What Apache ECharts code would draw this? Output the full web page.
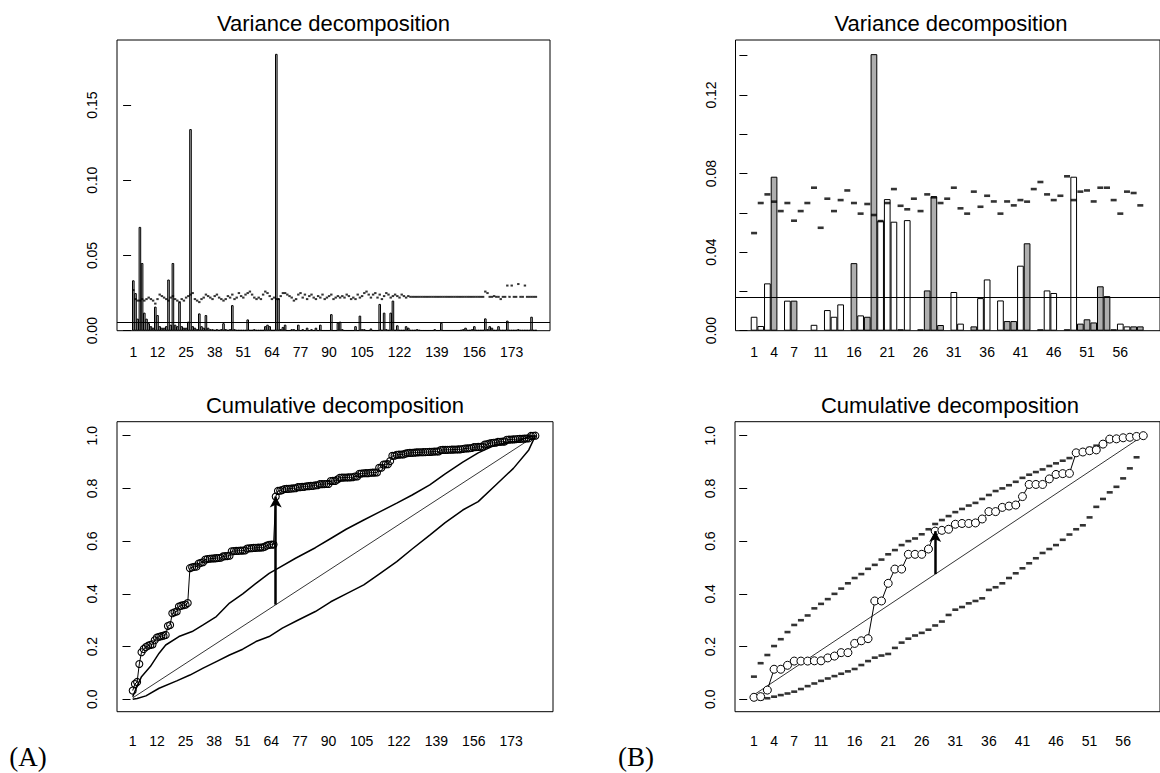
<!DOCTYPE html>
<html>
<head>
<meta charset="utf-8">
<script src="https://cdn.jsdelivr.net/npm/echarts@6.0.0/dist/echarts.min.js"></script>
<style>
html,body{margin:0;padding:0;background:#fff;}
#chart{width:1160px;height:773px;}
</style>
</head>
<body>
<div id="chart"></div>
<script>
// ---------- Panel A data (184 variables) ----------
const barsA = [
0.0335,0.025,0.008,0.069,0.045,0.012,0.008,0.005,0.003,0.002,
0.016,0.0104,0.003,0.002,0.002,0.003,0.034,0.004,0.045,0.004,
0.003,0.019,0.003,0.002,0.002,0.006,0.134,0.003,0.002,0.001,
0.0115,0.003,0.002,0.0104,0.002,0.001,0.001,0.0005,0.001,0.0005,
0.001,0.005,0.001,0.0005,0.001,0.017,0.001,0.0005,0.0005,0.0005,
0.0005,0.0005,0.0075,0.0005,0.0005,0.001,0.0005,0.0005,0.0005,0.0005,
0.003,0.004,0.003,0.0005,0.0005,0.184,0.0215,0.001,0.0025,0.004,
0.0003,0.0003,0.001,0.001,0.0003,0.004,0.0003,0.001,0.0003,0.002,
0.0003,0.001,0.0003,0.002,0.0003,0.004,0.0003,0.0003,0.0003,0.0003,
0.011,0.0003,0.0003,0.0053,0.006,0.001,0.0003,0.0003,0.0003,0.0003,
0.0003,0.003,0.0003,0.01,0.001,0.001,0.0003,0.0003,0.0015,0.0003,
0.0003,0.0003,0.0178,0.0005,0.012,0.001,0.0005,0.012,0.020,0.0005,
0.0036,0.0005,0.0005,0.0005,0.003,0.002,0.0005,0.0005,0.0005,0.001,
0.0005,0.0003,0.0003,0.0003,0.0003,0.0003,0.0003,0.001,0.0003,0.0003,
0.0053,0.0003,0.0003,0.0003,0.0003,0.0003,0.0003,0.0003,0.0003,0.0005,
0.001,0.002,0.0005,0.0005,0.001,0.003,0.0005,0.0005,0.0005,0.0005,
0.0082,0.001,0.003,0.002,0.0005,0.0005,0.003,0.0005,0.0005,0.0005,
0.0067,0.0005,0.0005,0.0005,0.0005,0.001,0.0005,0.0005,0.0005,0.0005,
0.0005,0.0093,0.0005,0.0005
];
const thresholdA = [
0.027,0.021,0.020,0.020,0.021,0.020,0.021,0.022,0.021,0.020,
0.018,0.021,0.024,0.023,0.022,0.021,0.020,0.022,0.023,0.021,
0.020,0.019,0.021,0.020,0.022,0.023,0.024,0.025,0.021,0.020,
0.019,0.021,0.022,0.024,0.023,0.022,0.021,0.023,0.024,0.022,
0.021,0.020,0.021,0.023,0.022,0.024,0.021,0.022,0.025,0.023,
0.022,0.024,0.025,0.026,0.024,0.022,0.021,0.022,0.021,0.024,
0.026,0.025,0.023,0.021,0.022,0.021,0.021,0.023,0.025,0.025,
0.024,0.023,0.022,0.020,0.021,0.024,0.025,0.022,0.024,0.021,
0.023,0.024,0.022,0.021,0.023,0.022,0.024,0.021,0.022,0.023,
0.024,0.021,0.022,0.023,0.022,0.023,0.022,0.024,0.023,0.021,
0.022,0.021,0.024,0.022,0.023,0.025,0.026,0.024,0.022,0.024,
0.025,0.022,0.024,0.021,0.023,0.025,0.024,0.022,0.023,0.024,
0.023,0.022,0.024,0.023,0.022,0.023,0.0225,0.0225,0.0225,0.0225,
0.0225,0.0225,0.0225,0.0225,0.0225,0.0225,0.0225,0.0225,0.0225,0.0225,
0.0225,0.0225,0.0225,0.0225,0.0225,0.0225,0.0225,0.0225,0.0225,0.0225,
0.0225,0.0225,0.0225,0.0225,0.0225,0.0225,0.0225,0.0225,0.0225,0.0225,
0.026,0.025,0.0225,0.0225,0.023,0.0225,0.0225,0.021,0.0225,0.0225,
0.030,0.0225,0.030,0.0225,0.0225,0.031,0.0225,0.0225,0.030,0.0225,
0.0225,0.0225,0.0225,0.0225
];
const uniformA = 0.0054;
const upperA = [[1,0.01],[3,0.05],[5,0.086],[9,0.124],[13,0.175],[16,0.206],[22,0.238],[28,0.257],[33,0.282],[39,0.314],[45,0.365],[51,0.40],[57,0.44],[63,0.478],[67,0.497],[75,0.535],[84,0.575],[91,0.61],[98,0.645],[106,0.68],[113,0.71],[121,0.744],[128,0.775],[136,0.813],[143,0.855],[151,0.90],[158,0.935],[166,0.965],[172,0.975],[176,0.98],[181,0.996],[184,1.0]];
const lowerA = [[1,0.0],[3,0.003],[7,0.013],[13,0.042],[21,0.07],[27,0.092],[33,0.118],[39,0.143],[45,0.168],[51,0.19],[57,0.219],[63,0.238],[69,0.27],[76,0.30],[84,0.333],[91,0.37],[98,0.40],[106,0.434],[113,0.475],[121,0.522],[128,0.57],[136,0.623],[143,0.67],[151,0.718],[158,0.75],[166,0.813],[174,0.876],[181,0.946],[184,1.0]];
const diagonalA = [[1,0.0054],[184,1.0]];
const arrowA = {index:66, from:0.359};
const tickLabelsA = [1,12,25,38,51,64,77,90,105,122,139,156,173];

// ---------- Panel B data (59 variables) ----------
const whiteB = [0.0071,0.0024,0.0241,null,null,0.0153,null,null,null,0.003,
null,0.0105,0.0071,0.0134,null,null,0.0078,null,null,0.056,
0.067,0.0555,0.0007,0.0563,null,0.0007,null,null,null,null,
0.0197,0.0036,null,null,0.0166,0.0261,null,0.0154,null,null,
0.0331,null,null,0.0007,0.0205,0.0192,null,0.0007,0.0784,null,
null,null,null,null,0.0007,0.0036,0.0022,null,null];
const greyB = [null,null,null,0.0784,null,null,0.0153,null,null,null,
null,null,null,null,null,0.0344,null,0.0071,0.1408,null,
null,null,null,null,null,null,0.0205,0.0684,0.0029,null,
null,null,null,0.0022,null,null,null,null,0.0049,0.0049,
null,0.0445,null,null,null,null,null,null,null,0.0036,
0.0058,0.0042,0.0226,0.0176,null,null,null,0.0022,0.0022];
const thresholdB = [0.0497,0.065,0.0694,0.0657,0.0609,0.065,0.056,0.0609,0.065,0.0728,
0.0524,0.0672,0.0609,0.0665,0.0714,0.065,0.0596,0.0645,0.0589,0.0558,
0.065,0.0721,0.0636,0.0618,0.0672,0.0609,0.0694,0.0679,0.065,0.0672,
0.0728,0.0623,0.0596,0.0708,0.0631,0.0687,0.0658,0.0596,0.0658,0.0638,
0.0665,0.0657,0.0721,0.0757,0.0694,0.0665,0.0687,0.0786,0.0665,0.0708,
0.0714,0.0658,0.0728,0.0728,0.0665,0.0596,0.0708,0.0701,0.0638];
const uniformB = 0.017;
const cumulativeB = [0.0076,0.010,0.035,0.114,0.114,0.129,0.145,0.145,0.145,0.146,
0.146,0.157,0.164,0.177,0.177,0.212,0.222,0.230,0.373,0.373,
0.440,0.494,0.494,0.550,0.550,0.550,0.570,0.638,0.641,0.645,
0.664,0.667,0.667,0.669,0.684,0.712,0.712,0.728,0.733,0.737,
0.769,0.815,0.815,0.815,0.836,0.853,0.856,0.857,0.935,0.938,
0.943,0.946,0.968,0.987,0.988,0.992,0.994,0.997,1.0];
const upperB = [0.086,0.137,0.168,0.202,0.228,0.255,0.282,0.300,0.318,0.345,
0.362,0.380,0.40,0.42,0.44,0.46,0.475,0.495,0.51,0.53,
0.55,0.566,0.585,0.60,0.61,0.626,0.645,0.665,0.68,0.695,
0.71,0.722,0.735,0.745,0.76,0.775,0.79,0.80,0.812,0.825,
0.84,0.852,0.862,0.872,0.885,0.895,0.905,0.915,0.93,0.942,
0.953,0.962,0.97,0.98,0.99,0.995,0.998,1.0,1.0];
const lowerB = [0.0,0.0,0.004,0.01,0.016,0.022,0.029,0.039,0.05,0.06,
0.07,0.079,0.088,0.097,0.106,0.115,0.13,0.145,0.158,0.166,
0.172,0.195,0.215,0.23,0.242,0.252,0.264,0.28,0.295,0.32,
0.34,0.35,0.364,0.373,0.383,0.415,0.425,0.44,0.46,0.478,
0.497,0.516,0.535,0.555,0.57,0.585,0.605,0.625,0.645,0.66,
0.69,0.73,0.76,0.785,0.806,0.838,0.876,0.918,1.0];
const diagonalB = [[1,0.017],[59,1.0]];
const arrowB = {index:28, from:0.475};
const tickLabelsB = [1,4,7,11,16,21,26,31,36,41,46,51,56];

// ---------- build ----------
const idx = arr => arr.map((v,i)=>[i+1, v]);
const totalA = barsA.reduce((a,b)=>a+b,0);
let run = 0;
const cumulativeA = barsA.map(v => { run += v; return run/totalA; });

const FONT = 'Liberation Sans, Arial, sans-serif';
const BLK = '#000';

function xAxis(gi, min, max, labels, margin){
  return {type:'value', gridIndex:gi, min:min, max:max,
    axisLine:{show:false}, axisTick:{show:false}, splitLine:{show:false},
    axisLabel:{customValues:labels, formatter:v=>String(v), color:BLK, fontFamily:FONT, fontSize:14, margin:margin}};
}
function yAxis(gi, min, max, ticks, labels, dec){
  return {type:'value', gridIndex:gi, min:min, max:max,
    axisLine:{show:false}, splitLine:{show:false},
    axisTick:{show:true, customValues:ticks, length:8, lineStyle:{color:BLK, width:1}},
    axisLabel:{customValues:labels, rotate:90, formatter:v=>v.toFixed(dec), color:BLK, fontFamily:FONT, fontSize:14, margin:18}};
}
const gridStyle = {show:true, borderColor:BLK, borderWidth:1, backgroundColor:'transparent', containLabel:false};

const hLine = v => ({silent:true, symbol:'none', precision:6, label:{show:false}, lineStyle:{color:BLK, width:1, type:'solid'}, data:[{yAxis:v}]});
const arrow = (a, cum) => ({silent:true, symbol:['none','arrow'], symbolSize:[9,11], precision:6, label:{show:false},
  lineStyle:{color:BLK, width:2.5, type:'solid'},
  data:[[{coord:[a.index, a.from]},{coord:[a.index, cum[a.index-1]]}]]});

const option = {
  animation:false,
  backgroundColor:'#fff',
  grid:[
    Object.assign({left:117, top:40, width:433, height:290.7}, gridStyle),
    Object.assign({left:117, top:421.7, width:436, height:290}, gridStyle),
    Object.assign({left:735.5, top:40, width:430, height:290.7}, gridStyle),
    Object.assign({left:735, top:421.7, width:427, height:290}, gridStyle)
  ],
  xAxis:[
    xAxis(0, -6.41, 190.4, tickLabelsA, 14),
    xAxis(1, -6.14, 192.0, tickLabelsA, 22),
    xAxis(2, -1.79, 61.96, tickLabelsB, 14),
    xAxis(3, -1.82, 61.49, tickLabelsB, 22)
  ],
  yAxis:[
    yAxis(0, 0, 0.1932, [0,0.05,0.10,0.15], [0,0.05,0.10,0.15], 2),
    yAxis(1, -0.047, 1.053, [0,0.2,0.4,0.6,0.8,1.0], [0,0.2,0.4,0.6,0.8,1.0], 1),
    yAxis(2, 0, 0.148, [0,0.02,0.04,0.06,0.08,0.10,0.12,0.14], [0,0.04,0.08,0.12], 2),
    yAxis(3, -0.047, 1.053, [0,0.2,0.4,0.6,0.8,1.0], [0,0.2,0.4,0.6,0.8,1.0], 1)
  ],
  series:[
    // A top
    {type:'bar', xAxisIndex:0, yAxisIndex:0, data:idx(barsA), barWidth:2.6,
      itemStyle:{color:'#BEBEBE', borderColor:BLK, borderWidth:1}, markLine:hLine(uniformA)},
    {type:'scatter', xAxisIndex:0, yAxisIndex:0, data:idx(thresholdA), symbol:'rect', symbolSize:[2.4,2],
      itemStyle:{color:BLK}},
    // A bottom
    {type:'line', xAxisIndex:1, yAxisIndex:1, data:diagonalA, symbol:'none', lineStyle:{color:BLK, width:0.8}},
    {type:'line', xAxisIndex:1, yAxisIndex:1, data:upperA, symbol:'none', lineStyle:{color:BLK, width:1.5}},
    {type:'line', xAxisIndex:1, yAxisIndex:1, data:lowerA, symbol:'none', lineStyle:{color:BLK, width:1.5}},
    {type:'line', xAxisIndex:1, yAxisIndex:1, data:idx(cumulativeA), symbol:'circle', symbolSize:7, showAllSymbol:true,
      itemStyle:{color:'rgba(0,0,0,0)', borderColor:BLK, borderWidth:1.1}, lineStyle:{color:BLK, width:1},
      markLine:arrow(arrowA, cumulativeA)},
    // B top
    {type:'bar', xAxisIndex:2, yAxisIndex:2, data:idx(whiteB), barWidth:6.7, barGap:'-100%',
      itemStyle:{color:'#fff', borderColor:BLK, borderWidth:1}, markLine:hLine(uniformB)},
    {type:'bar', xAxisIndex:2, yAxisIndex:2, data:idx(greyB), barWidth:6.7, barGap:'-100%',
      itemStyle:{color:'#AEAEAE', borderColor:BLK, borderWidth:1}},
    {type:'scatter', xAxisIndex:2, yAxisIndex:2, data:idx(thresholdB), symbol:'rect', symbolSize:[6,2.6],
      itemStyle:{color:BLK}, z:5},
    // B bottom
    {type:'line', xAxisIndex:3, yAxisIndex:3, data:diagonalB, symbol:'none', lineStyle:{color:BLK, width:0.8}},
    {type:'scatter', xAxisIndex:3, yAxisIndex:3, data:idx(upperB), symbol:'rect', symbolSize:[6,2.6], itemStyle:{color:BLK}},
    {type:'scatter', xAxisIndex:3, yAxisIndex:3, data:idx(lowerB), symbol:'rect', symbolSize:[6,2.6], itemStyle:{color:BLK}},
    {type:'line', xAxisIndex:3, yAxisIndex:3, data:idx(cumulativeB), symbol:'circle', symbolSize:8, showAllSymbol:true,
      itemStyle:{color:'#fff', borderColor:BLK, borderWidth:1}, lineStyle:{color:BLK, width:1},
      markLine:arrow(arrowB, cumulativeB), z:4}
  ],
  graphic:[
    {type:'text', x:333.5, y:23, style:{text:'Variance decomposition', font:'22px '+FONT, fill:BLK, align:'center', verticalAlign:'middle', textAlign:'center', textVerticalAlign:'middle'}},
    {type:'text', x:335, y:405, style:{text:'Cumulative decomposition', font:'22px '+FONT, fill:BLK, align:'center', verticalAlign:'middle', textAlign:'center', textVerticalAlign:'middle'}},
    {type:'text', x:951, y:23, style:{text:'Variance decomposition', font:'22px '+FONT, fill:BLK, align:'center', verticalAlign:'middle', textAlign:'center', textVerticalAlign:'middle'}},
    {type:'text', x:950, y:405, style:{text:'Cumulative decomposition', font:'22px '+FONT, fill:BLK, align:'center', verticalAlign:'middle', textAlign:'center', textVerticalAlign:'middle'}},
    {type:'text', x:28, y:757, style:{text:'(A)', font:'27px Liberation Serif, Times New Roman, serif', fill:BLK, align:'center', verticalAlign:'middle', textAlign:'center', textVerticalAlign:'middle'}},
    {type:'text', x:636, y:757, style:{text:'(B)', font:'27px Liberation Serif, Times New Roman, serif', fill:BLK, align:'center', verticalAlign:'middle', textAlign:'center', textVerticalAlign:'middle'}}
  ]
};
const chart = echarts.init(document.getElementById('chart'), null, {renderer:'svg', width:1160, height:773});
chart.setOption(option);
</script>
</body>
</html>
